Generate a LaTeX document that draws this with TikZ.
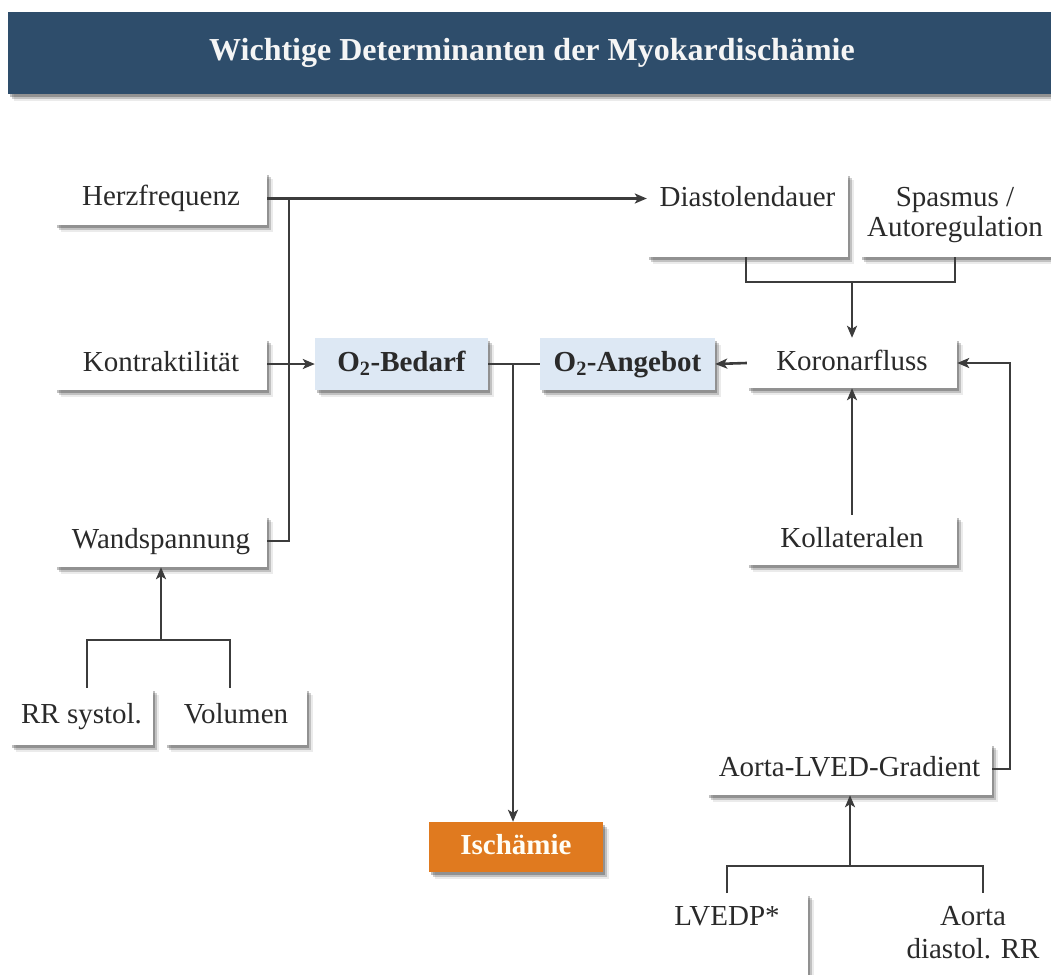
\documentclass[tikz,border=0pt]{standalone}
\usepackage{fontspec}
\setmainfont{Liberation Serif}
\usetikzlibrary{arrows.meta,shadows}
\definecolor{hdr}{HTML}{2E4D6B}
\definecolor{txt}{HTML}{2A2A2A}
\definecolor{ln}{HTML}{3C3C3C}
\definecolor{o2blue}{HTML}{DDE8F4}
\definecolor{isch}{HTML}{E07A1F}
\begin{document}
\begin{tikzpicture}[x=1pt,y=-1pt,
  shad/.style={drop shadow={shadow xshift=2pt,shadow yshift=-3pt,opacity=0.25,fill=black},
               drop shadow={shadow xshift=4pt,shadow yshift=-5pt,opacity=0.18,fill=black},
               drop shadow={shadow xshift=6pt,shadow yshift=-7pt,opacity=0.08,fill=black}},
  box/.style={shad,fill=white,draw=none,inner sep=0pt,text=txt,
              font=\fontsize{29}{33}\selectfont,text height=20pt,text depth=6pt},
  o2box/.style={box,fill=o2blue,font=\fontsize{29}{33}\selectfont\bfseries},
  ischbox/.style={box,fill=isch,text=white!96!yellow,font=\fontsize{29}{33}\selectfont\bfseries},
  plain/.style={inner sep=0pt,text=txt,font=\fontsize{29}{33}\selectfont,anchor=base},
  conn/.style={draw=ln,line width=2.6pt},
  arr/.style={conn,-{Stealth[length=12pt,width=10pt,inset=3pt]}}
]
\useasboundingbox (0,0) rectangle (1051,974);

% header
\node[shad,fill=hdr,inner sep=0pt,minimum width=1053pt,minimum height=82pt,anchor=north west] (header) at (8,12) {};
\node[text=white!96!black,font=\fontsize{32}{36}\selectfont\bfseries,inner sep=0pt] (title) at (532,53) {Wichtige Determinanten der Myokardischämie};

% left column
\node[box,minimum width=212pt,minimum height=53pt] (herz) at (161,198.5) {Herzfrequenz};
\node[box,minimum width=212pt,minimum height=52pt] (kontr) at (161,364) {Kontraktilität};
\node[box,minimum width=212pt,minimum height=52pt] (wand) at (161,541) {Wandspannung};
\node[box,minimum width=143pt,minimum height=57pt] (rr) at (81.5,716.5) {RR systol.};
\node[box,minimum width=142pt,minimum height=57pt] (vol) at (236,716.5) {Volumen};

% center
\node[o2box,minimum width=173pt,minimum height=52pt] (bedarf) at (401.5,364) {O\textsubscript{2}-Bedarf};
\node[o2box,minimum width=175pt,minimum height=52pt] (angebot) at (627.5,364) {O\textsubscript{2}-Angebot};
\node[ischbox,minimum width=174pt,minimum height=50pt] (isch) at (516,847) {Ischämie};

% right column
\node[box,minimum width=201pt,minimum height=84pt,text height=33pt,text depth=51pt] (diast) at (747.5,215) {Diastolendauer};
\node[box,minimum width=191pt,minimum height=84pt] (spasm) at (955.5,215) {};
\node[plain] (spasmA) at (955,206) {Spasmus /};
\node[plain] (spasmB) at (955,236) {Autoregulation};
\node[box,minimum width=210pt,minimum height=50pt] (koronar) at (852,363) {Koronarfluss};
\node[box,minimum width=210pt,minimum height=50pt] (kollat) at (852,540) {Kollateralen};
\node[box,minimum width=285pt,minimum height=52pt] (grad) at (849.5,769) {Aorta-LVED-Gradient};
\node[box,minimum width=160pt,minimum height=100pt,anchor=north] (lvedp) at (728,893) {};
\node[plain] (lvedpT) at (727,925) {LVEDP*};
\node[box,minimum width=165pt,minimum height=100pt,anchor=north] (aodia) at (975.5,893) {};
\node[plain] (aodiaA) at (973,925) {Aorta};
\node[plain] (aodiaB) at (973,958) {diastol. RR};

% connectors: left
\coordinate (j1) at (289,198.5);
\draw[arr] (herz.east) -- (herz.east -| diast.west);
\draw[conn] (j1) |- (wand.east);
\draw[arr] (kontr.east) -- (bedarf.west);
\coordinate (b1) at (161,640);
\draw[conn] (rr.north -| 87,0) |- (b1) -| (vol.north -| 230,0);
\draw[arr] (b1) -- (wand.south);

% center
\coordinate (j2) at (513,364);
\draw[conn] (bedarf.east) -- (angebot.west);
\draw[arr] (j2) -- (j2 |- isch.north);

% right
\draw[arr] (koronar.west) -- (angebot.east);
\coordinate (b2) at (852,282);
\draw[conn] (diast.south -| 746,0) |- (b2) -| (spasm.south -| 955,0);
\draw[arr] (b2) -- (koronar.north);
\draw[arr] (kollat.north) -- (koronar.south);
\coordinate (r1) at (1010,769);
\draw[arr] (grad.east) -- (r1) |- (koronar.east);
\coordinate (b3) at (850,866);
\draw[conn] (lvedp.north -| 727,0) |- (b3) -| (aodia.north -| 983,0);
\draw[arr] (b3) -- (b3 |- grad.south);
\end{tikzpicture}
\end{document}
